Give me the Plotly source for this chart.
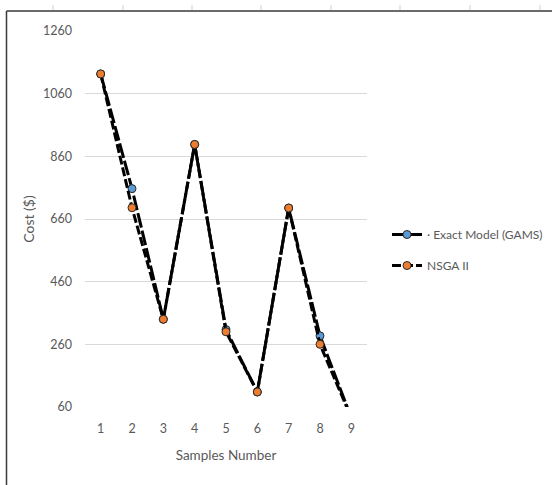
import plotly.graph_objects as go

# Sample indices and costs for the two solution methods
samples = [1, 2, 3, 4, 5, 6, 7, 8, 9]
exact_gams = [1123, 757, 340, 898, 307, 108, 695, 287, 25]
nsga_ii = [1123, 696, 340, 898, 300, 108, 695, 260, 25]

y_ticks = [60, 260, 460, 660, 860, 1060, 1260]

W, H = 552, 485
L, R, T, B = 85, 185, 31, 78
PW, PH = W - L - R, H - T - B


def px_x(px):
    return (px - L) / PW


def px_y(py):
    return (H - B - py) / PH


TEXT = "#595959"
FONT = "Lato"

fig = go.Figure()

fig.add_trace(go.Scatter(
    x=samples, y=exact_gams, name="· Exact Model (GAMS)",
    mode="lines+markers", legendgroup="a",
    line=dict(color="black", width=3, dash="15px,3px"),
    marker=dict(size=8, color="#5B9BD5", line=dict(color="#2a2a2a", width=1)),
))
fig.add_trace(go.Scatter(
    x=samples, y=nsga_ii, name="NSGA II",
    mode="lines+markers", legendgroup="b",
    line=dict(color="black", width=3, dash="9px,3px"),
    marker=dict(size=8, color="#ED7D31", line=dict(color="#2a2a2a", width=1)),
))

shapes = []
# frame around the chart (left and top edges)
shapes.append(dict(type="line", xref="paper", yref="paper",
                   x0=px_x(6.5), x1=px_x(W + 2), y0=px_y(11), y1=px_y(11),
                   line=dict(color="#3a3a3a", width=1.5)))
shapes.append(dict(type="line", xref="paper", yref="paper",
                   x0=px_x(6.5), x1=px_x(6.5), y0=px_y(11), y1=px_y(H + 2),
                   line=dict(color="#3a3a3a", width=1.5)))
# small ruler ticks along the top edge
for tx in [53, 123, 192, 261, 331, 400, 470, 540]:
    shapes.append(dict(type="line", xref="paper", yref="paper",
                       x0=px_x(tx), x1=px_x(tx), y0=px_y(5), y1=px_y(10),
                       line=dict(color="#cfcfcf", width=1)))

fig.update_layout(
    width=W, height=H,
    margin=dict(l=L, r=R, t=T, b=B, autoexpand=False),
    paper_bgcolor="white", plot_bgcolor="white",
    font=dict(family=FONT, color=TEXT, size=12),
    showlegend=True,
    legend=dict(x=px_x(387), y=px_y(220), xanchor="left", yanchor="top",
                font=dict(size=12, color=TEXT, family=FONT),
                traceorder="grouped", tracegroupgap=12,
                bgcolor="rgba(0,0,0,0)"),
    xaxis=dict(range=[0.5, 9.5], tickmode="array", tickvals=samples,
               ticktext=[str(s) for s in samples], showgrid=False,
               zeroline=False, showline=False, ticks="",
               ticklabelstandoff=12,
               tickfont=dict(size=12.5, color=TEXT),
               title=dict(text="Samples Number", font=dict(size=13.5, color=TEXT),
                          standoff=16)),
    yaxis=dict(range=[60, 1260], tickmode="array", tickvals=y_ticks,
               showgrid=True, gridcolor="#d9d9d9", gridwidth=1,
               zeroline=False, showline=False, ticks="",
               ticklabelstandoff=12,
               tickfont=dict(size=12.5, color=TEXT),
               title=dict(text="Cost ($)", font=dict(size=14, color=TEXT),
                          standoff=5)),
    shapes=shapes,
)

fig.write_html("out.html")
